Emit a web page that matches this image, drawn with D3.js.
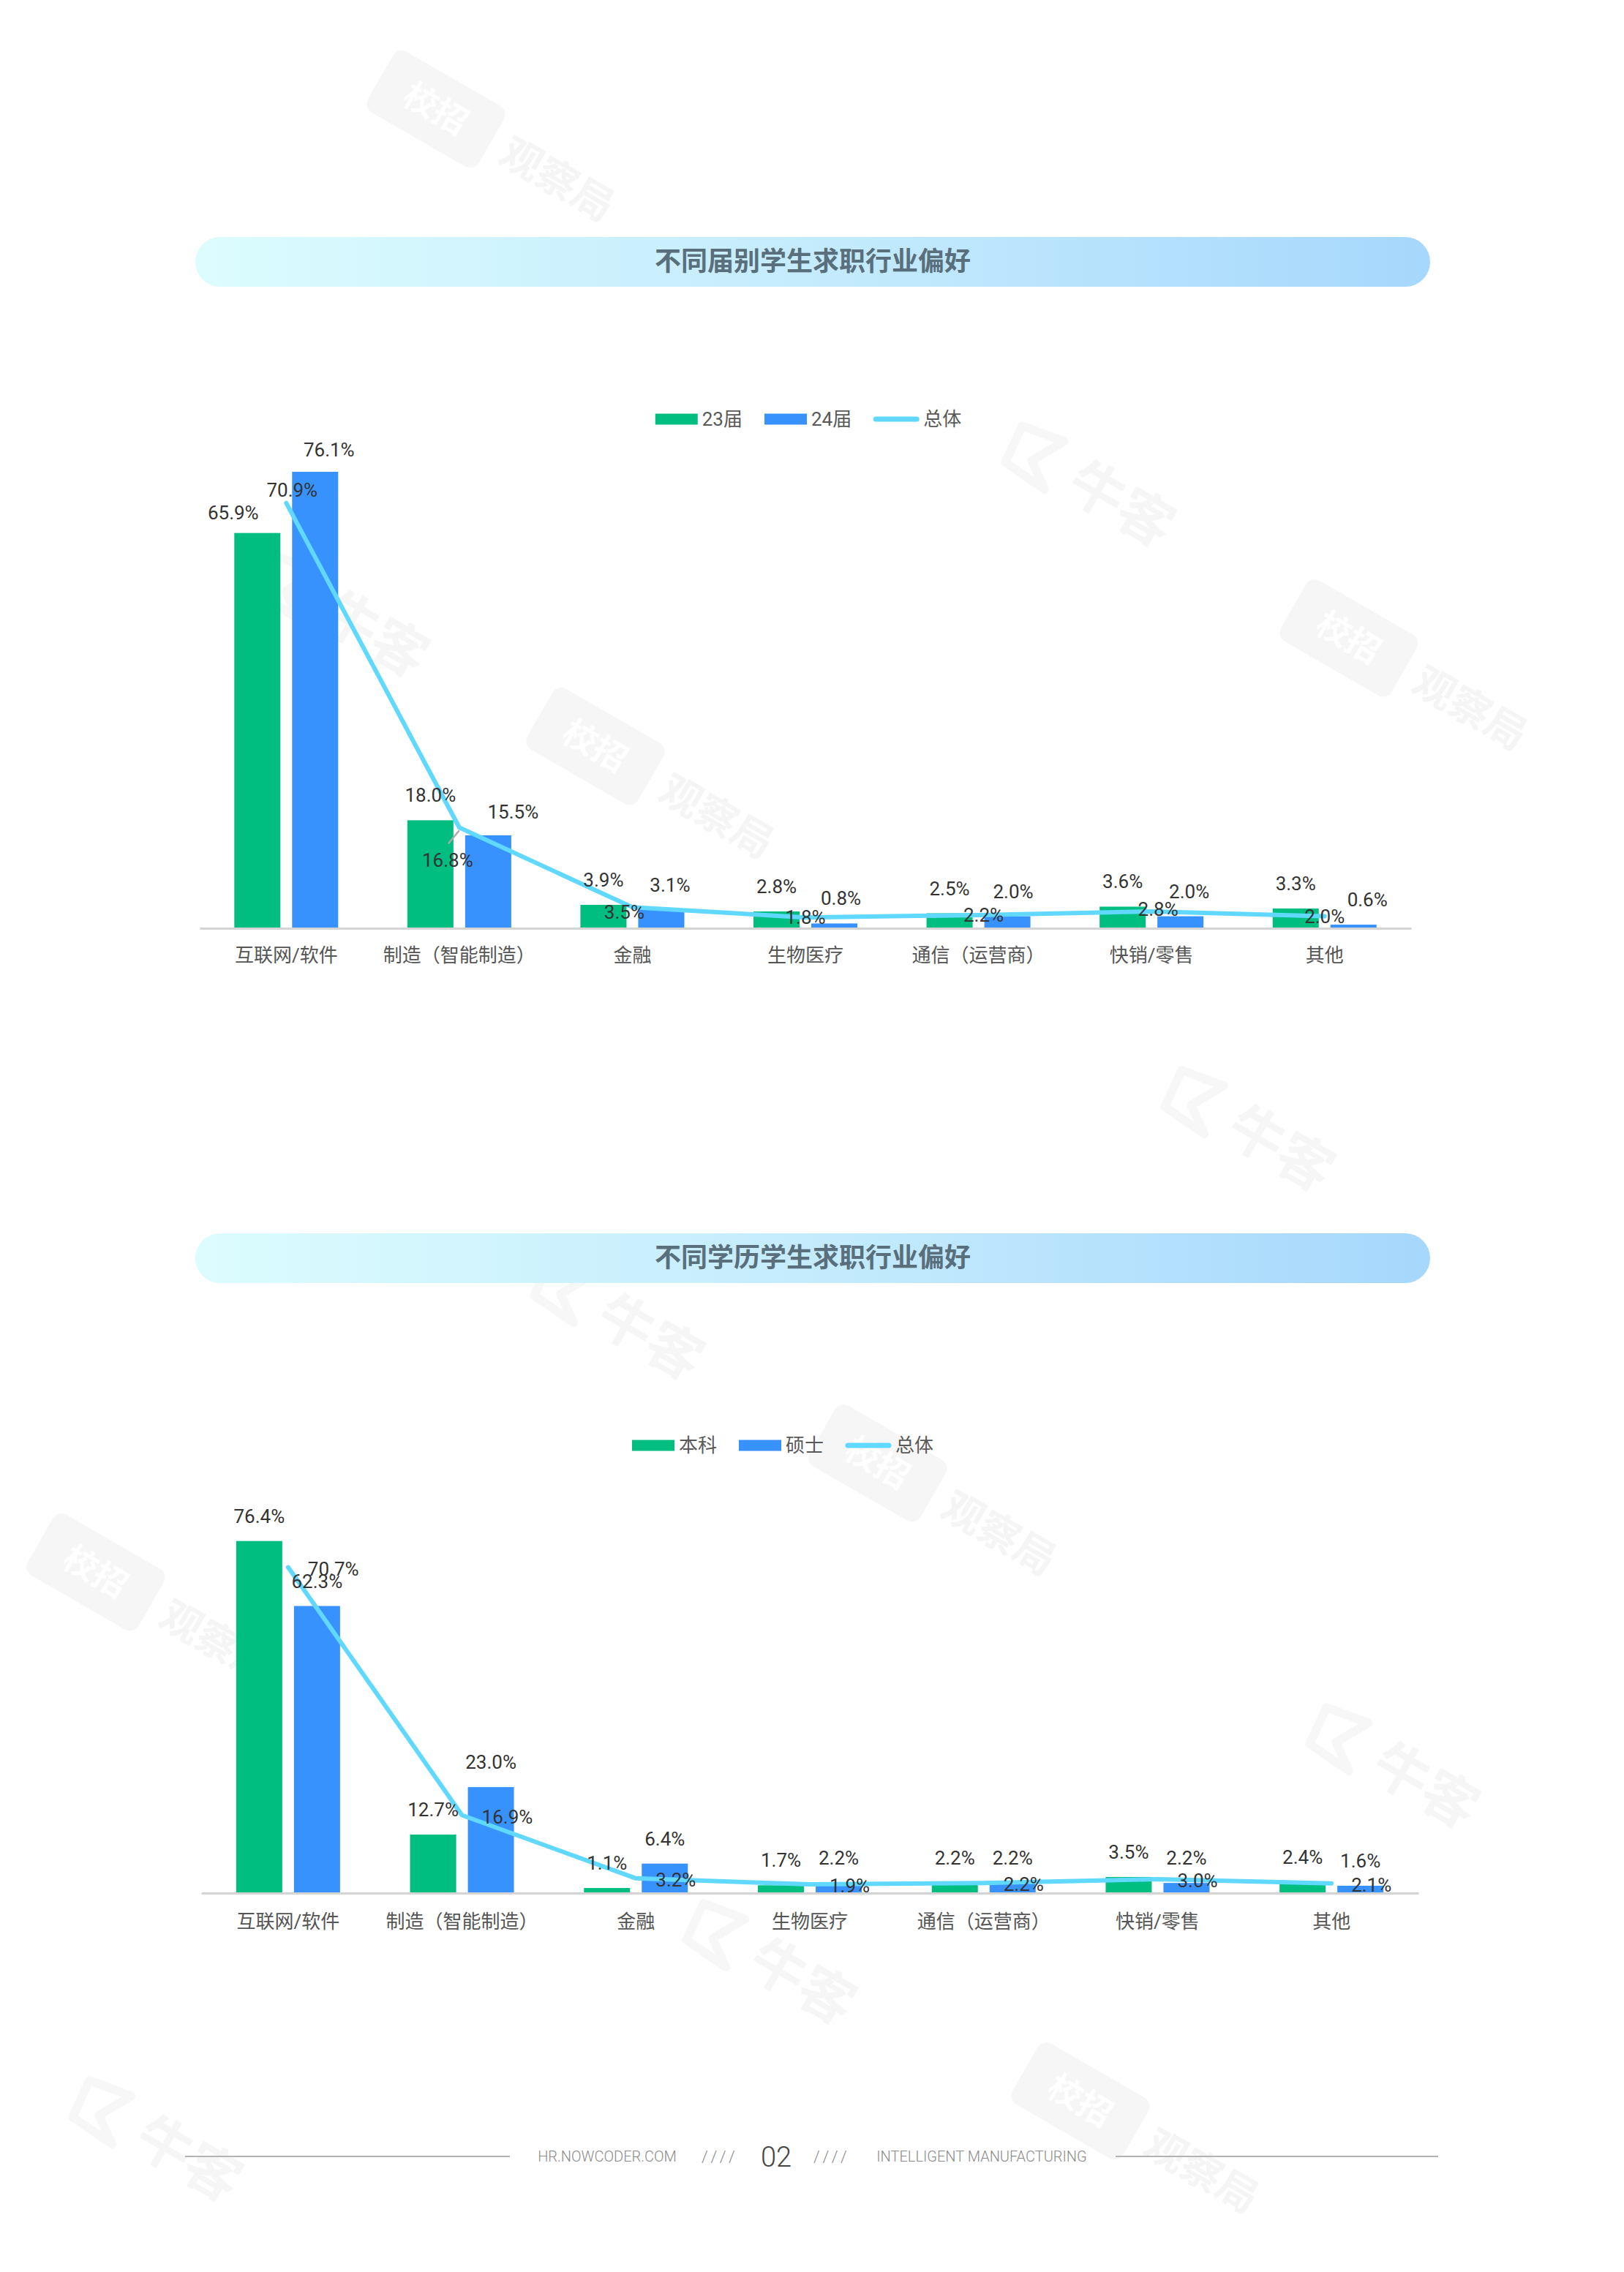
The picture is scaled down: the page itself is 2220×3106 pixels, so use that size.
<!DOCTYPE html>
<html>
<head>
<meta charset="utf-8">
<script src="https://cdn.jsdelivr.net/npm/d3@7/dist/d3.min.js"></script>
<style>
  html, body { margin: 0; padding: 0; background: #fff; }
  svg { display: block; }
</style>
</head>
<body>
<svg id="page" width="2220" height="3106"></svg>
<script>
// ---------------- DATA ----------------
const categories = ["互联网/软件", "制造（智能制造）", "金融", "生物医疗", "通信（运营商）", "快销/零售", "其他"];

const chart1Title = "不同届别学生求职行业偏好";
const chart1SeriesNames = ["23届", "24届"];
const class2023 = [65.9, 18.0, 3.9, 2.8, 2.5, 3.6, 3.3];
const class2024 = [76.1, 15.5, 3.1, 0.8, 2.0, 2.0, 0.6];
const total1 = [70.9, 16.8, 3.5, 1.8, 2.2, 2.8, 2.0];

const chart2Title = "不同学历学生求职行业偏好";
const chart2SeriesNames = ["本科", "硕士"];
const bachelor = [76.4, 12.7, 1.1, 1.7, 2.2, 3.5, 2.4];
const master = [62.3, 23.0, 6.4, 2.2, 2.2, 2.2, 1.6];
const total2 = [70.7, 16.9, 3.2, 1.9, 2.2, 3.0, 2.1];

const lineName = "总体";
const footerLeft = "HR.NOWCODER.COM";
const footerPage = "02";
const footerRight = "INTELLIGENT MANUFACTURING";
const footerSep = "////";

// ---------------- STYLE / LAYOUT ----------------
const W = 2220, H = 3106;
const FONT = "Roboto, 'Noto Sans CJK SC', 'Noto Sans', sans-serif";
const CJK = "'Noto Sans CJK SC', 'Noto Sans', sans-serif";
const COLOR_A = "#00be80";
const COLOR_B = "#3792fe";
const COLOR_LINE = "#60d8ff";

const layouts = [
  {
    title: chart1Title, names: chart1SeriesNames, seriesA: class2023, seriesB: class2024, total: total1,
    titleY: 324, legendY: 573, legendCx: 1105,
    x0: 273, x1: 1929, base: 1269, yMax: 80, yH: 656, tickPad: 28,
    lineLabelMode: "center",
    // label nudges (collision shifts seen in the original rendering)
    aDx: [-33, 0, 0, 0, 0, 0, 0], aDy: [6, 0, 0, 0, 0, 0, 0],
    bDx: [19, 34, 12, 9, 8, 12, 19], bDy: [4, 2, 0, 0, 0, 0, 0],
    lDx: [8, -16, -11, 0, 7, 9, 0], lDy: [-18, 45, 7, 0, 0, -3, 0],
    leaderAt: 1
  },
  {
    title: chart2Title, names: chart2SeriesNames, seriesA: bachelor, seriesB: master, total: total2,
    titleY: 1686, legendY: 1976, legendCx: 1070,
    x0: 275, x1: 1939, base: 2588, yMax: 100, yH: 630, tickPad: 30,
    lineLabelMode: "right",
    aDx: [0, 0, 0, 0, 0, 0, 0], aDy: [0, 0, 0, 0, 0, 0, 0],
    bDx: [0, 0, 0, 0, 0, 0, 0], bDy: [0, 0, 0, 0, 0, 0, 0],
    lDx: [27, 27, 27, 27, 27, 27, 27], lDy: [2, 2, 2, 2, 2, 2, 2],
    leaderAt: -1
  }
];

const svg = d3.select("#page");
svg.append("rect").attr("width", W).attr("height", H).attr("fill", "#fff");

const defs = svg.append("defs");
const grad = defs.append("linearGradient").attr("id", "titleGrad").attr("x1", "0%").attr("x2", "100%");
grad.append("stop").attr("offset", "0%").attr("stop-color", "#dcfcfe");
grad.append("stop").attr("offset", "55%").attr("stop-color", "#c2eafd");
grad.append("stop").attr("offset", "100%").attr("stop-color", "#a6d7fc");

// ---------------- WATERMARKS (faint decoration) ----------------
const wm = svg.append("g").attr("class", "watermarks");
function wmLogo(cx, cy) {
  const g = wm.append("g").attr("transform", `translate(${cx},${cy}) rotate(30)`);
  g.append("rect").attr("x", -165).attr("y", -48).attr("width", 175).attr("height", 96).attr("rx", 14)
    .attr("fill", "#000").attr("opacity", 0.035);
  g.append("text").attr("x", -78).attr("y", 16).attr("text-anchor", "middle")
    .attr("font-family", CJK).attr("font-weight", 700).attr("font-size", 46)
    .attr("fill", "#fff").text("校招");
  g.append("text").attr("x", 30).attr("y", 20).attr("font-family", CJK).attr("font-weight", 700)
    .attr("font-size", 56).attr("fill", "#000").attr("opacity", 0.035).text("观察局");
}
function wmNiu(cx, cy) {
  const g = wm.append("g").attr("transform", `translate(${cx},${cy}) rotate(30)`);
  g.append("path").attr("d", "M-130,-30 L-70,-40 L-95,5 L-60,30 L-125,25 Z").attr("fill", "none")
    .attr("stroke", "#000").attr("stroke-width", 12).attr("stroke-linejoin", "round").attr("opacity", 0.03);
  g.append("text").attr("x", -35).attr("y", 22).attr("font-family", CJK).attr("font-weight", 700)
    .attr("font-size", 76).attr("fill", "#000").attr("opacity", 0.03).text("牛客");
}
[[663, 188], [1911, 911], [881, 1059], [198, 2188], [1267, 2039], [1544, 2911]]
  .forEach(p => wmLogo(p[0], p[1]));
[[1495, 673], [475, 851], [1713, 1554], [851, 1812], [1911, 2425], [1059, 2693], [220, 2935]]
  .forEach(p => wmNiu(p[0], p[1]));

// ---------------- CHARTS ----------------
function drawChart(cfg) {
  const g = svg.append("g");

  // Title bar
  g.append("rect").attr("x", 267).attr("y", cfg.titleY).attr("width", 1688).attr("height", 68)
    .attr("rx", 34).attr("fill", "url(#titleGrad)");
  g.append("text").attr("x", 1111).attr("y", cfg.titleY + 34 + 12).attr("text-anchor", "middle")
    .attr("font-family", CJK).attr("font-weight", 700).attr("font-size", 36).attr("fill", "#5a6f7c")
    .text(cfg.title);

  // Legend
  const legendItems = [
    { name: cfg.names[0], type: "bar", color: COLOR_A },
    { name: cfg.names[1], type: "bar", color: COLOR_B },
    { name: lineName, type: "line", color: COLOR_LINE }
  ];
  const lg = g.append("g");
  const widths = legendItems.map(it => {
    const t = lg.append("text").attr("font-family", FONT).attr("font-size", 26).text(it.name);
    const w = t.node().getComputedTextLength();
    t.remove();
    return w;
  });
  const iconW = it => it.type === "bar" ? 58 : 62;
  let total = 0;
  legendItems.forEach((it, i) => { total += iconW(it) + 6 + widths[i] + (i < legendItems.length - 1 ? 30 : 0); });
  let cx = cfg.legendCx - total / 2;
  legendItems.forEach((it, i) => {
    if (it.type === "bar") {
      lg.append("rect").attr("x", cx).attr("y", cfg.legendY - 7.5).attr("width", 58).attr("height", 15)
        .attr("fill", it.color);
    } else {
      lg.append("line").attr("x1", cx + 3).attr("x2", cx + 59).attr("y1", cfg.legendY).attr("y2", cfg.legendY)
        .attr("stroke", it.color).attr("stroke-width", 7).attr("stroke-linecap", "round");
    }
    cx += iconW(it) + 6;
    lg.append("text").attr("x", cx).attr("y", cfg.legendY + 9).attr("font-family", FONT)
      .attr("font-size", 26).attr("fill", "#595959").text(it.name);
    cx += widths[i] + 30;
  });

  // Scales
  const x = d3.scaleBand().domain(categories).range([cfg.x0, cfg.x1]).paddingInner(0).paddingOuter(0);
  const sub = d3.scaleBand().domain([0, 1]).range([-71, 71]).paddingInner(16 / 79);
  const y = d3.scaleLinear().domain([0, cfg.yMax]).range([cfg.base, cfg.base - cfg.yH]);
  const cxOf = c => x(c) + x.bandwidth() / 2;

  // Bars
  const seriesList = [
    { values: cfg.seriesA, color: COLOR_A, idx: 0, dx: cfg.aDx, dy: cfg.aDy },
    { values: cfg.seriesB, color: COLOR_B, idx: 1, dx: cfg.bDx, dy: cfg.bDy }
  ];
  seriesList.forEach(s => {
    g.append("g").selectAll("rect").data(s.values).join("rect")
      .attr("x", (d, i) => cxOf(categories[i]) + sub(s.idx))
      .attr("y", d => y(d))
      .attr("width", sub.bandwidth())
      .attr("height", d => cfg.base - y(d))
      .attr("fill", s.color);
  });

  // Axis
  const axis = d3.axisBottom(x).tickSize(0).tickSizeOuter(0).tickPadding(cfg.tickPad);
  const ag = g.append("g").attr("transform", `translate(0,${cfg.base})`).call(axis);
  ag.attr("font-family", FONT).attr("font-size", 26);
  ag.select(".domain").attr("stroke", "#d4d4d4").attr("stroke-width", 3);
  ag.selectAll(".tick text").attr("fill", "#555").attr("font-size", 26);

  // Line
  const line = d3.line().x((d, i) => cxOf(categories[i])).y(d => y(d));
  g.append("path").datum(cfg.total).attr("d", line).attr("fill", "none")
    .attr("stroke", COLOR_LINE).attr("stroke-width", 6)
    .attr("stroke-linejoin", "round").attr("stroke-linecap", "round");

  // Leader line for a shifted line label
  if (cfg.leaderAt >= 0) {
    const px = cxOf(categories[cfg.leaderAt]), py = y(cfg.total[cfg.leaderAt]);
    g.append("line").attr("x1", px).attr("y1", py + 4).attr("x2", px - 15).attr("y2", py + 22)
      .attr("stroke", "#aaaaaa").attr("stroke-width", 2.5);
  }

  // Bar labels
  seriesList.forEach(s => {
    g.append("g").selectAll("text").data(s.values).join("text")
      .attr("x", (d, i) => cxOf(categories[i]) + sub(s.idx) + sub.bandwidth() / 2 + s.dx[i])
      .attr("y", (d, i) => y(d) - 25 + s.dy[i])
      .attr("text-anchor", "middle")
      .attr("font-family", FONT).attr("font-size", 26).attr("fill", "#333")
      .text(d => d.toFixed(1) + "%");
  });

  // Line labels
  g.append("g").selectAll("text").data(cfg.total).join("text")
    .attr("x", (d, i) => cxOf(categories[i]) + cfg.lDx[i])
    .attr("y", (d, i) => y(d) + cfg.lDy[i] + 9)
    .attr("text-anchor", cfg.lineLabelMode === "right" ? "start" : "middle")
    .attr("font-family", FONT).attr("font-size", 26).attr("fill", "#333")
    .text(d => d.toFixed(1) + "%");
}

layouts.forEach(drawChart);

// ---------------- FOOTER ----------------
const fy = 2948;
const fg = svg.append("g");
fg.append("line").attr("x1", 253).attr("x2", 697).attr("y1", fy).attr("y2", fy).attr("stroke", "#b3b3b3").attr("stroke-width", 2);
fg.append("line").attr("x1", 1525).attr("x2", 1966).attr("y1", fy).attr("y2", fy).attr("stroke", "#b3b3b3").attr("stroke-width", 2);
const footerTexts = [
  { t: footerLeft, x: 830, size: 20, fill: "#8a8a8a", ls: 0 },
  { t: footerSep, x: 985, size: 22, fill: "#8a8a8a", ls: 6 },
  { t: footerPage, x: 1061, size: 38, fill: "#444", ls: 0 },
  { t: footerSep, x: 1138, size: 22, fill: "#8a8a8a", ls: 6 },
  { t: footerRight, x: 1342, size: 20, fill: "#8a8a8a", ls: 0 }
];
footerTexts.forEach(f => {
  fg.append("text").attr("x", f.x).attr("y", fy + f.size * 0.36).attr("text-anchor", "middle")
    .attr("font-family", FONT).attr("font-weight", 300).attr("font-size", f.size).attr("fill", f.fill)
    .attr("letter-spacing", f.ls)
    .text(f.t);
});
</script>
</body>
</html>
